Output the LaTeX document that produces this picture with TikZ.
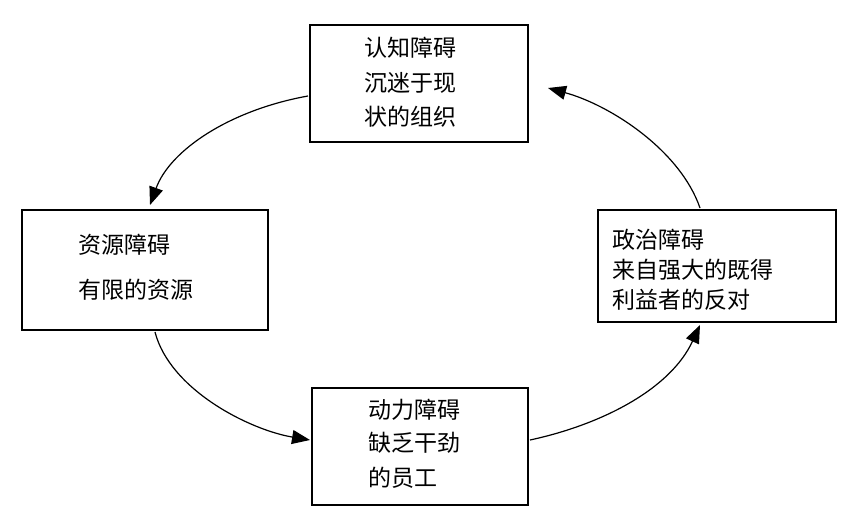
\documentclass[tikz,border=0pt]{standalone}
\usepackage{fontspec}
\newfontfamily\cjk{Noto Sans CJK SC}
\usetikzlibrary{arrows.meta}
\begin{document}
\begin{tikzpicture}[x=1pt,y=-1pt,
 box/.style={draw,line width=1.5pt,rectangle},
 txt/.style={anchor=west,font=\cjk\fontsize{23}{23}\selectfont,inner sep=0},
 arr/.style={line width=1.2pt,-{Triangle[length=18pt,width=14pt]}}]
\useasboundingbox (0,0) rectangle (864,518);
\draw[box] (310,25) rectangle (528,142);
\draw[box] (22,210) rectangle (268,330);
\draw[box] (598,210) rectangle (836,322);
\draw[box] (312,388) rectangle (528,505);
\node[txt] (t1) at (364,48) {认知障碍};
\node[txt] (t2) at (364,83) {沉迷于现};
\node[txt] (t3) at (364,117) {状的组织};
\node[txt] (l1) at (78,245) {资源障碍};
\node[txt] (l2) at (78,290) {有限的资源};
\node[txt] (r1) at (612,240) {政治障碍};
\node[txt] (r2) at (612,270) {来自强大的既得};
\node[txt] (r3) at (612,300) {利益者的反对};
\node[txt] (b1) at (368,410) {动力障碍};
\node[txt] (b2) at (368,443) {缺乏干劲};
\node[txt] (b3) at (368,478) {的员工};
\coordinate (a1) at (308,96); \coordinate (a2) at (150,205);
\coordinate (b1s) at (155,332); \coordinate (b2e) at (310,440);
\coordinate (c1) at (530,440); \coordinate (c2) at (700,325);
\coordinate (d1) at (700,208); \coordinate (d2) at (548,88);
\draw[arr] (a1) .. controls (230,110) and (170,150) .. (a2);
\draw[arr] (b1s) .. controls (170,390) and (250,430) .. (b2e);
\draw[arr] (c1) .. controls (600,425) and (670,390) .. (c2);
\draw[arr] (d1) .. controls (680,150) and (610,105) .. (d2);
\end{tikzpicture}
\end{document}
